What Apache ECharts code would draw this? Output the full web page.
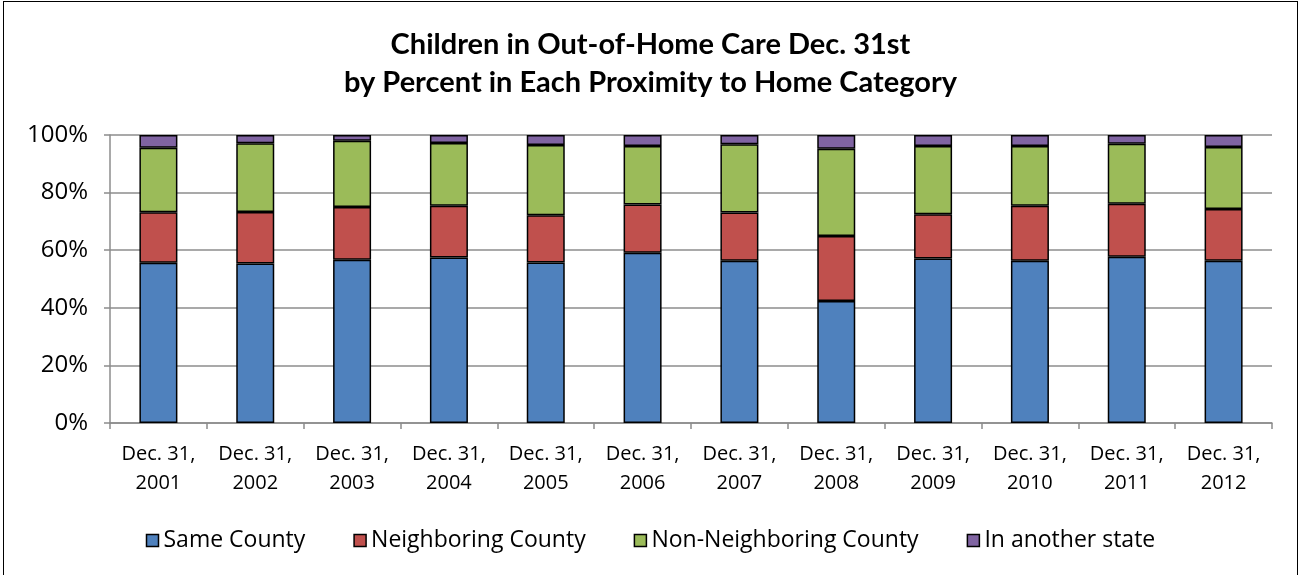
<!DOCTYPE html>
<html>
<head>
<meta charset="utf-8">
<script src="https://cdn.jsdelivr.net/npm/echarts@6/dist/echarts.min.js"></script>
<style>
  html, body { margin: 0; padding: 0; background: #fff; }
  #frame { position: absolute; left: 3px; top: 1px; width: 1295px; height: 580px; border: 1.5px solid #000; box-sizing: border-box; }
  #chart { position: absolute; left: 0; top: 0; width: 1301px; height: 575px; }
</style>
</head>
<body>
<div id="frame"></div>
<div id="chart"></div>
<script>
// Years of the Dec. 31st counts
const categories = ['Dec. 31,\n2001', 'Dec. 31,\n2002', 'Dec. 31,\n2003', 'Dec. 31,\n2004',
  'Dec. 31,\n2005', 'Dec. 31,\n2006', 'Dec. 31,\n2007', 'Dec. 31,\n2008',
  'Dec. 31,\n2009', 'Dec. 31,\n2010', 'Dec. 31,\n2011', 'Dec. 31,\n2012'];

// Percent of children in each proximity category
const sameCounty        = [55.6, 55.4, 56.7, 57.5, 55.7, 59.1, 56.3, 42.4, 57.1, 56.3, 57.7, 56.3];
const neighboringCounty = [17.6, 17.9, 18.3, 17.9, 16.4, 16.8, 16.8, 22.5, 15.4, 19.1, 18.4, 18.0];
const nonNeighboring    = [22.4, 23.8, 23.0, 21.8, 24.4, 20.3, 23.7, 30.3, 23.7, 20.8, 20.9, 21.5];
const anotherState      = [4.4, 2.9, 2.0, 2.8, 3.5, 3.8, 3.2, 4.8, 3.8, 3.8, 3.0, 4.2];

const yTicks = [0, 20, 40, 60, 80, 100];

const titleFont = 'Lato, "Open Sans", sans-serif';
const font = '"Open Sans", Lato, sans-serif';
const gridGray = '#8c8c8c';

function barSeries(name, data, color) {
  return {
    name: name,
    type: 'bar',
    stack: 'total',
    data: data,
    barWidth: 38,
    itemStyle: { color: color, borderColor: '#000', borderWidth: 1.5 },
    emphasis: { disabled: true }
  };
}

const chart = echarts.init(document.getElementById('chart'), null, { renderer: 'canvas' });
chart.setOption({
  animation: false,
  title: {
    text: 'Children in Out-of-Home Care Dec. 31st\nby Percent in Each Proximity to Home Category',
    left: 'center',
    top: 21,
    textStyle: { fontFamily: titleFont, fontWeight: 'bold', fontSize: 29, lineHeight: 38, color: '#000' }
  },
  legend: {
    top: 524,
    left: 'center',
    itemWidth: 12,
    itemHeight: 12,
    itemGap: 48,
    icon: 'rect',
    textStyle: { fontFamily: font, fontSize: 23, color: '#000' },
    itemStyle: { borderColor: '#000', borderWidth: 1.5 },
    data: ['Same County', 'Neighboring County', 'Non-Neighboring County', 'In another state']
  },
  grid: { left: 110, right: 29, top: 135, height: 288, containLabel: false },
  xAxis: {
    type: 'category',
    data: categories,
    axisLine: { lineStyle: { color: gridGray, width: 1.5 } },
    axisTick: { show: true, length: 6, lineStyle: { color: gridGray, width: 1.5 } },
    axisLabel: { fontFamily: font, fontSize: 20, color: '#000', lineHeight: 29, margin: 17, interval: 0 }
  },
  yAxis: {
    type: 'value',
    min: yTicks[0],
    max: yTicks[yTicks.length - 1],
    interval: 20,
    axisLine: { show: true, lineStyle: { color: gridGray, width: 1.5 } },
    axisTick: { show: true, length: 6, lineStyle: { color: gridGray, width: 1.5 } },
    splitLine: { lineStyle: { color: gridGray, width: 1.5 } },
    axisLabel: { fontFamily: font, fontSize: 24, color: '#000', margin: 22, formatter: v => v + '%' }
  },
  series: [
    barSeries('Same County', sameCounty, '#4F81BD'),
    barSeries('Neighboring County', neighboringCounty, '#C0504D'),
    barSeries('Non-Neighboring County', nonNeighboring, '#9BBB59'),
    barSeries('In another state', anotherState, '#8064A2')
  ]
});
</script>
</body>
</html>
